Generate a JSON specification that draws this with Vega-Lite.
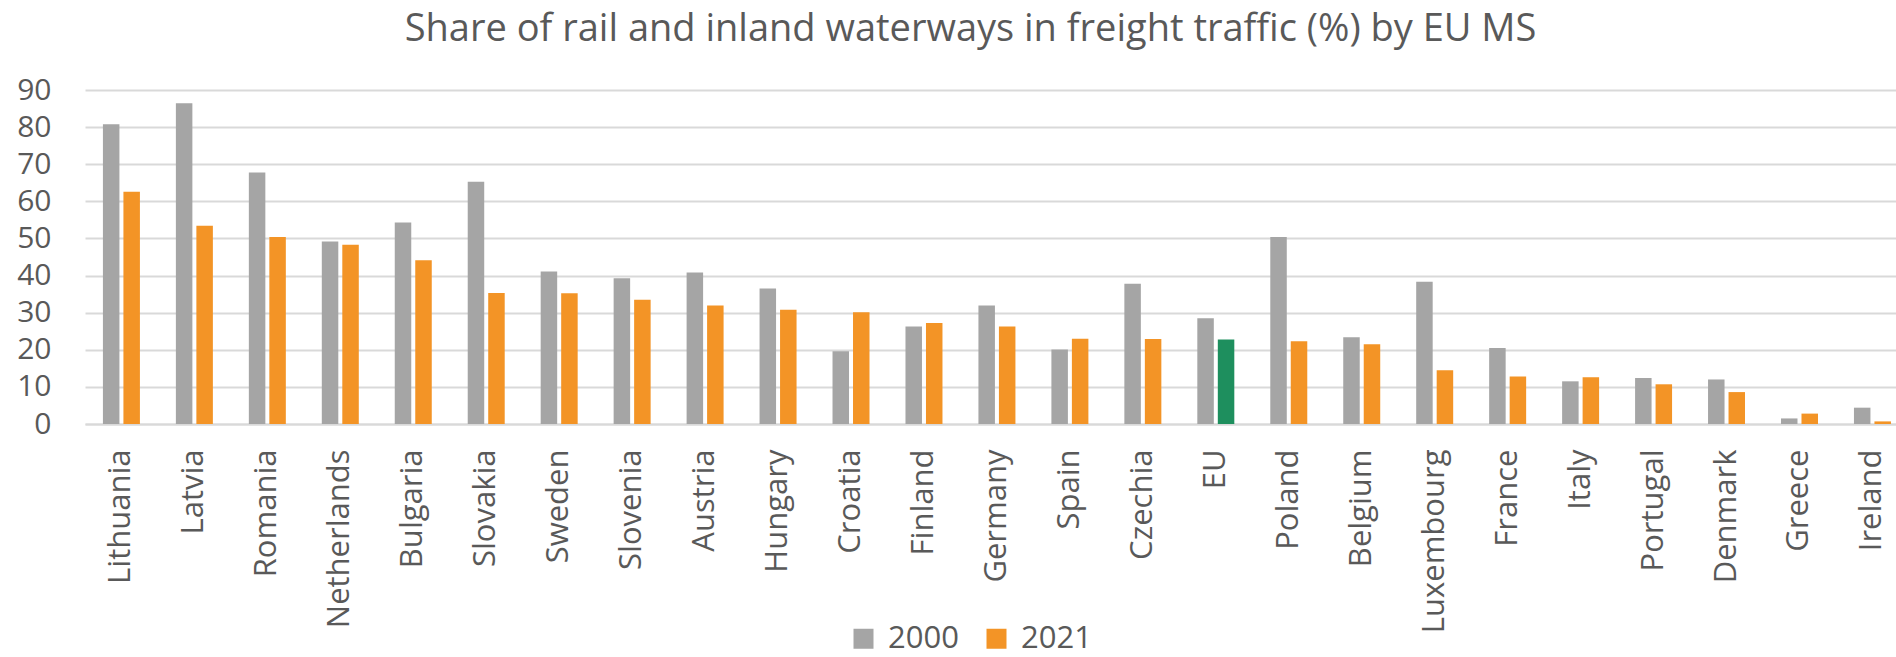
{
  "$schema": "https://vega.github.io/schema/vega-lite/v6.json",
  "autosize": {"type": "none"},
  "padding": {"left": 85, "top": 90, "right": 0, "bottom": 233},
  "width": 1811,
  "height": 334,
  "background": "#ffffff",
  "title": {
    "text": "Share of rail and inland waterways in freight traffic (%) by EU MS",
    "font": "Open Sans",
    "fontSize": 38,
    "fontWeight": "normal",
    "color": "#595959",
    "anchor": "middle",
    "baseline": "alphabetic",
    "offset": 20,
    "dy": 24,
    "dx": -20
  },
  "data": {
    "values": [
      {"country": "Lithuania", "year": "2000", "value": 80.8},
      {"country": "Lithuania", "year": "2021", "value": 62.6},
      {"country": "Latvia", "year": "2000", "value": 86.4},
      {"country": "Latvia", "year": "2021", "value": 53.4},
      {"country": "Romania", "year": "2000", "value": 67.8},
      {"country": "Romania", "year": "2021", "value": 50.4},
      {"country": "Netherlands", "year": "2000", "value": 49.2},
      {"country": "Netherlands", "year": "2021", "value": 48.3},
      {"country": "Bulgaria", "year": "2000", "value": 54.3},
      {"country": "Bulgaria", "year": "2021", "value": 44.1},
      {"country": "Slovakia", "year": "2000", "value": 65.3},
      {"country": "Slovakia", "year": "2021", "value": 35.3},
      {"country": "Sweden", "year": "2000", "value": 41.1},
      {"country": "Sweden", "year": "2021", "value": 35.2},
      {"country": "Slovenia", "year": "2000", "value": 39.3},
      {"country": "Slovenia", "year": "2021", "value": 33.5},
      {"country": "Austria", "year": "2000", "value": 40.8},
      {"country": "Austria", "year": "2021", "value": 31.9},
      {"country": "Hungary", "year": "2000", "value": 36.5},
      {"country": "Hungary", "year": "2021", "value": 30.8},
      {"country": "Croatia", "year": "2000", "value": 19.6},
      {"country": "Croatia", "year": "2021", "value": 30.1},
      {"country": "Finland", "year": "2000", "value": 26.3},
      {"country": "Finland", "year": "2021", "value": 27.2},
      {"country": "Germany", "year": "2000", "value": 31.9},
      {"country": "Germany", "year": "2021", "value": 26.3},
      {"country": "Spain", "year": "2000", "value": 20.1},
      {"country": "Spain", "year": "2021", "value": 23.0},
      {"country": "Czechia", "year": "2000", "value": 37.8},
      {"country": "Czechia", "year": "2021", "value": 22.9},
      {"country": "EU", "year": "2000", "value": 28.5},
      {"country": "EU", "year": "2021", "value": 22.8},
      {"country": "Poland", "year": "2000", "value": 50.4},
      {"country": "Poland", "year": "2021", "value": 22.3},
      {"country": "Belgium", "year": "2000", "value": 23.4},
      {"country": "Belgium", "year": "2021", "value": 21.5},
      {"country": "Luxembourg", "year": "2000", "value": 38.3},
      {"country": "Luxembourg", "year": "2021", "value": 14.5},
      {"country": "France", "year": "2000", "value": 20.5},
      {"country": "France", "year": "2021", "value": 12.8},
      {"country": "Italy", "year": "2000", "value": 11.5},
      {"country": "Italy", "year": "2021", "value": 12.6},
      {"country": "Portugal", "year": "2000", "value": 12.4},
      {"country": "Portugal", "year": "2021", "value": 10.7},
      {"country": "Denmark", "year": "2000", "value": 12.0},
      {"country": "Denmark", "year": "2021", "value": 8.6},
      {"country": "Greece", "year": "2000", "value": 1.5},
      {"country": "Greece", "year": "2021", "value": 2.8},
      {"country": "Ireland", "year": "2000", "value": 4.4},
      {"country": "Ireland", "year": "2021", "value": 0.7}
    ]
  },
  "mark": {"type": "bar"},
  "encoding": {
    "x": {
      "field": "country",
      "type": "nominal",
      "sort": null,
      "title": null,
      "scale": {"paddingInner": 0.493, "paddingOuter": 0.1575, "align": 0.78},
      "axis": {
        "labelAngle": -90,
        "labelAlign": "right",
        "labelBaseline": "middle",
        "labelPadding": 25,
        "labelLimit": 0,
        "labelFont": "Open Sans",
        "labelFontSize": 31,
        "labelColor": "#595959",
        "ticks": false,
        "tickSize": 0,
        "domain": true,
        "domainColor": "#D9D9D9",
        "domainWidth": 2,
        "grid": false
      }
    },
    "xOffset": {
      "field": "year",
      "type": "nominal",
      "scale": {"paddingInner": 0.195, "paddingOuter": 0}
    },
    "y": {
      "field": "value",
      "type": "quantitative",
      "title": null,
      "scale": {"domain": [0, 90], "nice": false},
      "axis": {
        "values": [0, 10, 20, 30, 40, 50, 60, 70, 80, 90],
        "labelFont": "Open Sans",
        "labelFontSize": 30,
        "labelColor": "#595959",
        "labelPadding": 34,
        "ticks": false,
        "tickSize": 0,
        "domain": false,
        "grid": true,
        "gridColor": "#D9D9D9",
        "gridWidth": 2
      }
    },
    "color": {
      "condition": {"test": "datum.country === 'EU' && datum.year === '2021'", "value": "#1E8F5E"},
      "field": "year",
      "type": "nominal",
      "scale": {"domain": ["2000", "2021"], "range": ["#A5A5A5", "#F39426"]},
      "legend": {
        "title": null,
        "orient": "none",
        "legendX": 763,
        "legendY": 533,
        "direction": "horizontal",
        "padding": 0,
        "symbolType": "square",
        "symbolSize": 400,
        "symbolStrokeWidth": 0,
        "labelFont": "Open Sans",
        "labelFontSize": 31,
        "labelColor": "#595959",
        "labelOffset": 9,
        "columnPadding": 22
      }
    }
  },
  "config": {
    "view": {"stroke": null}
  }
}
